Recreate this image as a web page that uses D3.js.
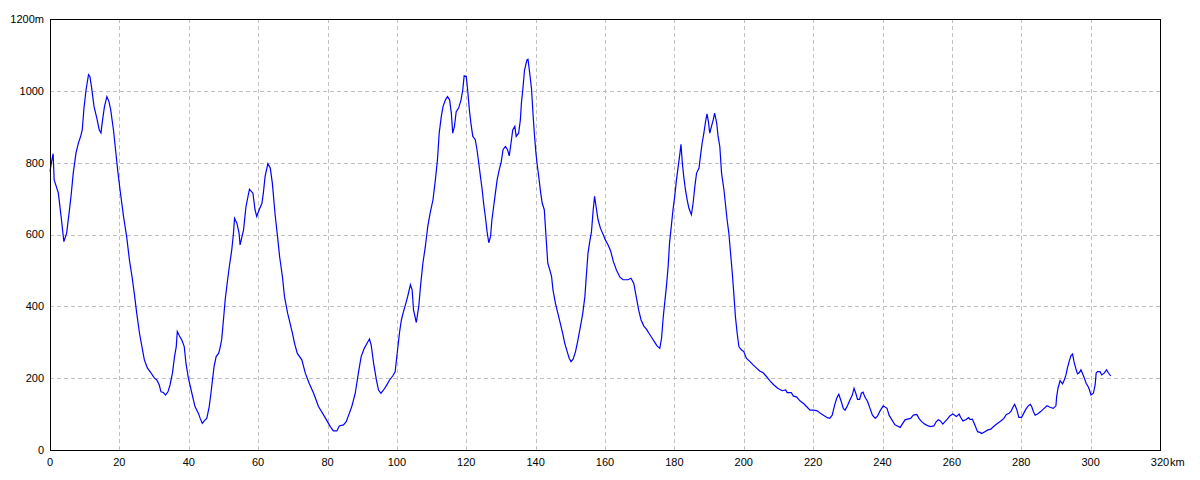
<!DOCTYPE html>
<html>
<head>
<meta charset="utf-8">
<script src="https://cdn.jsdelivr.net/npm/d3@7"></script>
<style>
  body { margin: 0; background: #fff; }
  text { font-family: "Liberation Sans", Arial, sans-serif; font-size: 11px; fill: #000; }
</style>
</head>
<body>
<script>
const width = 1200;
const height = 480;

// distance (km) and elevation (m)
const dist = [0.0,0.4,0.9,1.2,2.4,3.2,4.0,4.8,5.6,6.1,6.7,7.5,8.2,8.8,9.3,9.8,10.4,11.1,11.5,12.0,12.7,13.5,14.2,14.7,15.1,15.7,16.4,17.0,17.5,18.3,19.0,19.5,20.2,21.2,22.1,22.9,23.7,24.3,25.0,25.8,26.5,27.2,28.1,29.1,30.1,30.8,31.5,32.0,32.7,33.3,34.0,34.6,35.3,35.9,36.4,36.7,37.3,38.0,38.7,39.2,39.9,40.9,41.8,42.8,43.3,43.9,44.7,45.2,45.9,46.4,46.9,47.3,47.9,48.6,49.0,49.5,50.0,50.5,51.2,51.7,52.4,52.9,53.2,53.9,54.5,54.8,55.8,56.5,57.5,58.5,59.1,59.6,60.3,61.1,61.5,62.0,62.8,63.5,64.1,64.9,65.6,66.2,67.0,67.6,68.5,69.2,69.9,70.5,71.3,72.6,73.6,74.7,76.0,77.4,78.9,80.0,80.8,81.7,82.7,83.4,84.6,85.4,86.1,87.0,88.0,88.9,89.7,90.6,91.4,92.1,92.6,93.3,94.1,94.7,95.4,96.0,96.9,97.9,98.8,99.5,100.2,100.8,101.3,101.9,102.6,103.1,103.9,104.4,104.8,105.6,106.3,106.8,107.5,108.2,108.9,109.6,110.4,111.1,111.7,112.2,112.8,113.3,114.0,114.6,115.2,115.7,116.1,116.6,117.1,117.8,118.5,119.0,119.4,120.0,120.4,120.9,121.4,121.9,122.6,123.1,123.6,124.1,124.6,125.0,125.5,126.0,126.5,127.0,127.4,127.9,128.4,128.9,129.5,130.1,130.6,131.3,131.9,132.4,132.9,133.4,134.0,134.4,135.1,135.6,135.9,136.3,136.8,137.5,137.8,138.3,138.8,139.3,139.7,140.1,140.4,140.9,141.4,141.9,142.5,143.0,143.5,144.1,144.6,145.0,145.7,146.4,147.1,147.8,148.4,149.1,149.7,150.2,150.8,151.5,152.1,152.9,153.6,154.2,154.6,155.1,155.6,156.1,156.6,157.0,157.5,158.0,158.7,159.5,160.1,160.9,161.6,162.4,163.3,164.3,165.2,166.6,167.5,168.3,169.0,169.7,170.4,171.2,172.0,172.8,173.6,174.4,175.0,175.8,176.3,176.8,177.2,177.7,178.2,178.6,179.1,179.6,180.1,180.6,181.1,181.6,181.9,182.3,182.7,183.2,183.7,184.2,184.9,185.4,185.9,186.4,187.1,187.5,188.0,188.5,189.0,189.4,189.8,190.2,190.7,191.2,191.6,192.2,192.6,193.1,193.6,194.3,194.8,195.2,195.7,196.2,196.7,197.2,197.6,198.1,198.6,199.3,200.0,200.8,201.8,202.7,203.7,204.6,205.6,206.6,207.5,208.7,209.8,211.1,212.1,212.5,213.7,214.3,215.2,216.2,217.4,218.1,219.1,220.2,221.2,222.1,223.1,224.1,224.8,225.5,226.2,226.8,227.4,228.1,228.7,229.2,229.9,230.6,231.3,231.8,232.3,232.8,233.4,233.9,234.4,234.9,235.7,236.4,237.1,237.9,238.6,239.3,240.2,241.3,241.9,242.7,243.6,244.3,245.1,245.7,246.5,247.2,248.1,248.9,249.9,250.5,251.3,252.2,253.2,253.9,254.8,255.5,256.1,256.7,257.4,258.0,258.7,259.4,260.3,261.3,262.1,262.5,263.2,264.0,264.8,265.2,265.9,266.6,267.4,268.1,268.6,269.5,270.4,271.2,272.2,273.1,274.1,275.0,275.7,276.5,277.1,277.6,278.1,278.7,279.3,280.1,280.7,281.3,282.0,282.6,283.0,283.5,284.0,284.7,285.6,286.6,287.4,288.3,289.2,290.0,290.2,290.6,291.2,291.9,292.4,292.9,293.3,293.8,294.3,294.8,295.2,295.7,296.2,296.7,297.2,297.7,298.2,298.7,299.2,299.6,300.1,300.8,301.3,301.6,302.0,302.7,303.2,303.9,304.6,305.1,305.8];
const elev = [775,800,825,752,716,650,580,604,668,710,771,827,855,872,891,953,1003,1045,1040,1008,956,924,891,883,915,956,984,970,947,891,827,780,724,650,594,529,479,436,381,325,288,251,228,215,200,195,181,162,160,153,162,181,214,260,288,330,318,306,288,241,200,158,121,102,88,74,84,88,121,158,200,232,260,269,283,308,362,418,474,511,557,604,645,631,604,571,613,678,726,715,669,650,669,687,715,761,797,785,743,655,594,538,483,427,381,353,325,297,269,251,214,186,158,121,97,79,65,53,53,67,70,79,97,121,158,214,260,283,297,309,292,241,195,167,158,165,178,195,206,218,279,330,362,385,409,427,460,446,390,355,399,455,520,566,622,660,696,752,808,882,928,956,975,984,975,938,882,901,942,952,975,1003,1042,1040,1003,947,905,873,864,836,799,761,724,687,650,608,577,594,641,678,715,752,780,803,836,845,836,819,854,891,901,873,882,919,966,1003,1058,1086,1088,1049,1007,928,873,826,799,761,720,687,669,594,520,501,483,446,409,381,353,325,297,274,255,246,253,274,302,343,381,427,483,548,580,608,669,706,673,641,617,599,585,571,555,525,501,481,474,474,478,464,427,390,362,345,336,323,311,299,290,283,311,371,409,455,511,576,622,669,706,752,789,826,851,799,761,724,696,673,655,687,734,771,785,817,854,882,915,936,915,882,901,919,938,910,873,845,771,724,678,641,604,548,492,427,371,325,288,279,274,255,246,237,228,220,215,204,193,181,172,165,167,160,160,150,148,137,128,121,111,111,109,102,96,90,88,97,125,144,155,135,116,111,123,139,153,172,158,141,141,158,161,148,135,116,97,88,95,109,123,116,97,84,70,67,63,72,84,86,88,97,99,88,79,72,67,65,67,79,84,81,72,79,86,95,100,93,100,91,81,84,90,85,86,70,51,49,46,51,56,58,67,74,81,88,99,102,109,119,127,113,91,91,102,113,123,127,121,107,97,100,107,116,123,119,116,123,148,172,193,184,195,209,228,246,262,267,246,228,212,215,223,212,200,186,178,169,153,158,181,214,218,218,209,214,223,215,206];

const xTicks = [0, 20, 40, 60, 80, 100, 120, 140, 160, 180, 200, 220, 240, 260, 280, 300, 320];
const yTicks = [0, 200, 400, 600, 800, 1000, 1200];

const padding = {left: 50, right: 40, top: 19, bottom: 30};

const svg = d3.select("body")
  .append("svg")
  .attr("width", width)
  .attr("height", height);

svg.append("rect")
  .attr("width", width)
  .attr("height", height)
  .attr("fill", "#fff");

const xScale = d3.scaleLinear()
  .domain([0, 320])
  .range([padding.left, width - padding.right]);

const yScale = d3.scaleLinear()
  .domain([0, 1200])
  .range([height - padding.bottom, padding.top]);

const crisp = (v) => Math.round(v) + 0.5;

// dashed grid
svg.append("g")
  .selectAll("line")
  .data(xTicks.slice(1, -1))
  .join("line")
  .attr("x1", (d) => crisp(xScale(d)))
  .attr("x2", (d) => crisp(xScale(d)))
  .attr("y1", yScale(1200))
  .attr("y2", yScale(0))
  .attr("stroke", "#c0c0c0")
  .attr("stroke-dasharray", "4,3");

svg.append("g")
  .selectAll("line")
  .data(yTicks.slice(1, -1))
  .join("line")
  .attr("x1", xScale(0))
  .attr("x2", xScale(320))
  .attr("y1", (d) => crisp(yScale(d)))
  .attr("y2", (d) => crisp(yScale(d)))
  .attr("stroke", "#c0c0c0")
  .attr("stroke-dasharray", "4,3");

// profile
const line = d3.line()
  .x((d, i) => xScale(dist[i]))
  .y((d) => yScale(d));

svg.append("path")
  .datum(elev)
  .attr("fill", "none")
  .attr("stroke", "#0000ff")
  .attr("stroke-width", 1.2)
  .attr("d", line);

// frame
svg.append("rect")
  .attr("x", crisp(xScale(0)))
  .attr("y", crisp(yScale(1200)))
  .attr("width", Math.round(xScale(320)) - Math.round(xScale(0)))
  .attr("height", Math.round(yScale(0)) - Math.round(yScale(1200)))
  .attr("fill", "none")
  .attr("stroke", "#000");

// labels
svg.append("g")
  .selectAll("text")
  .data(yTicks)
  .join("text")
  .attr("x", 44)
  .attr("y", (d) => yScale(d))
  .attr("dy", "0.35em")
  .style("text-anchor", "end")
  .text((d) => d === 1200 ? d + "m" : d);

svg.append("g")
  .selectAll("text")
  .data(xTicks)
  .join("text")
  .attr("x", (d) => xScale(d))
  .attr("y", height - padding.bottom + 16)
  .style("text-anchor", "middle")
  .text((d) => d);

// unit after the last distance label
svg.append("text")
  .attr("x", xScale(320) + 10)
  .attr("y", height - padding.bottom + 16)
  .text("km");
</script>
</body>
</html>
